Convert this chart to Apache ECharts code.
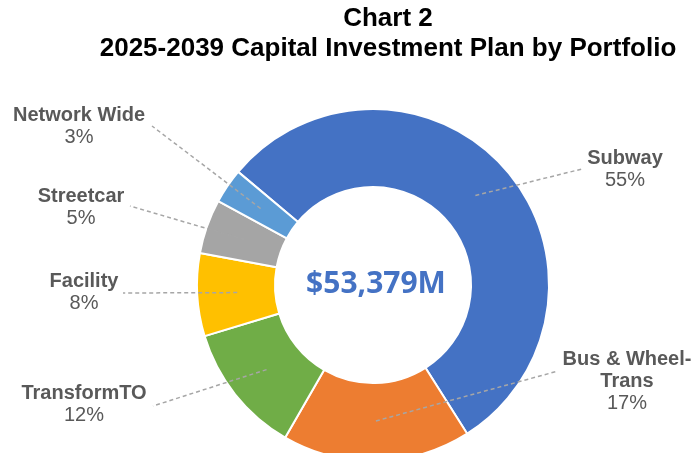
<!DOCTYPE html>
<html><head><meta charset="utf-8">
<script src="https://cdn.jsdelivr.net/npm/echarts@6/dist/echarts.min.js"></script>
<style>html,body{margin:0;padding:0;background:#fff}#c{width:692px;height:453px}</style>
</head><body><div id="c"></div>
<script>
const categories = ['Subway', 'Bus & Wheel-Trans', 'TransformTO', 'Facility', 'Streetcar', 'Network Wide'];
const shares = [54.9, 17.3, 12.0, 7.6, 5.0, 3.2];
const totalLabel = '$53,379M';
const titleLines = ['Chart 2', '2025-2039 Capital Investment Plan by Portfolio'];

const colors = ['#4472C4', '#ED7D31', '#70AD47', '#FFC000', '#A5A5A5', '#5B9BD5'];
const CX = 373, CY = 285, R_OUT = 176, R_IN = 98, R_LINE = 136;
// label block centres and leader-line end points (layout only)
const spots = [
  {x: 625, y: 169, ex: 582, ey: 169},
  {x: 627, y: 381, ex: 558, ey: 371},
  {x: 84, y: 404, ex: 153, ey: 406},
  {x: 84, y: 292, ex: 123, ey: 293},
  {x: 81, y: 207, ex: 130, ey: 206},
  {x: 79, y: 126, ex: 152, ey: 126}
];
const FONT = 'Liberation Sans, Arial, sans-serif';

const chart = echarts.init(document.getElementById('c'), null, {renderer: 'canvas'});
const baseGraphic = [
  {type: 'text', x: 388, y: 19, z: 100,
   style: {text: titleLines[0], align: 'center', verticalAlign: 'middle', font: 'bold 26px ' + FONT, fill: '#000'}},
  {type: 'text', x: 388, y: 49, z: 100,
   style: {text: titleLines[1], align: 'center', verticalAlign: 'middle', font: 'bold 26px ' + FONT, fill: '#000'}},
  {type: 'text', x: 376, y: 284, z: 100,
   style: {text: totalLabel, align: 'center', verticalAlign: 'middle', font: 'bold 30px "Open Sans", sans-serif', fill: '#4472C4'}}
];
chart.setOption({
  animation: false,
  graphic: baseGraphic,
  series: [{
    type: 'pie',
    center: [CX, CY],
    radius: [R_IN, R_OUT],
    startAngle: 140,
    clockwise: true,
    avoidLabelOverlap: false,
    silent: true,
    itemStyle: {borderColor: '#fff', borderWidth: 2},
    data: categories.map((n, i) => ({name: n, value: shares[i], itemStyle: {color: colors[i]}})),
    label: {
      show: true, position: 'outside',
      formatter: p => '{n|' + p.name.replace('Wheel-', 'Wheel-\n') + '}\n{p|' + Math.round(p.percent) + '%}',
      rich: {
        n: {fontFamily: FONT, fontWeight: 'bold', fontSize: 20, lineHeight: 22, color: '#595959', align: 'center'},
        p: {fontFamily: FONT, fontSize: 20, lineHeight: 22, color: '#595959', align: 'center'}
      }
    },
    labelLine: {show: false},
    labelLayout: function (params) {
      const s = spots[params.dataIndex];
      return {x: s.x, y: s.y, align: 'center', verticalAlign: 'middle'};
    }
  }]
});

// leader lines: start on the mid-angle of each sector as laid out by ECharts
try {
  const data = chart.getModel().getSeriesByIndex(0).getData();
  const lines = [];
  for (let i = 0; i < data.count(); i++) {
    const L = data.getItemLayout(i);
    const mid = (L.startAngle + L.endAngle) / 2;
    const sx = L.cx + R_LINE * Math.cos(mid), sy = L.cy + R_LINE * Math.sin(mid);
    lines.push({type: 'polyline', z: 90, silent: true,
      shape: {points: [[sx, sy], [spots[i].ex, spots[i].ey]]},
      style: {stroke: '#A6A6A6', lineWidth: 1.5, lineDash: [4, 3], fill: null}});
  }
  chart.setOption({graphic: baseGraphic.concat(lines)});
} catch (e) { console.error(e); }
</script></body></html>
